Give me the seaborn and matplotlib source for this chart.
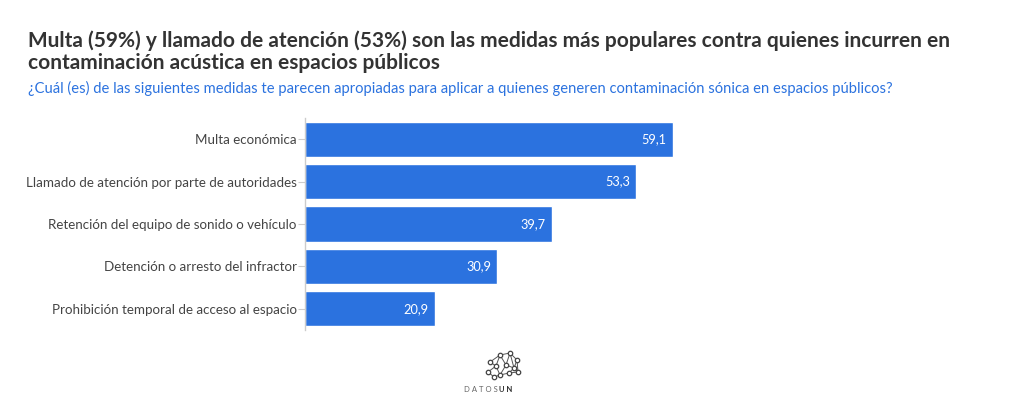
import matplotlib
matplotlib.use("Agg")
import matplotlib.pyplot as plt
import seaborn as sns
import pandas as pd
from matplotlib.lines import Line2D

categories = [
    "Multa económica",
    "Llamado de atención por parte de autoridades",
    "Retención del equipo de sonido o vehículo",
    "Detención o arresto del infractor",
    "Prohibición temporal de acceso al espacio",
]
values = [59.1, 53.3, 39.7, 30.9, 20.9]

title = ("Multa (59%) y llamado de atención (53%) son las medidas más populares contra quienes incurren en\n"
         "contaminación acústica en espacios públicos")
subtitle = ("¿Cuál (es) de las siguientes medidas te parecen apropiadas para aplicar a quienes generen "
            "contaminación sónica en espacios públicos?")

sns.set_theme(style="white")
plt.rcParams['font.family'] = ['Lato', 'DejaVu Sans']

df = pd.DataFrame({"cat": categories, "val": values})

W, H = 1020, 411
fig = plt.figure(figsize=(W / 100, H / 100), dpi=100)
ax = fig.add_axes([305 / W, 1 - 330 / H, (930 - 305) / W, (330 - 118) / H])

bar_color = "#2b72df"
sns.barplot(data=df, x="val", y="cat", orient="h", color=bar_color, width=0.83,
            saturation=1, ax=ax)
ax.set_xlim(0, 100.5)
ax.set_ylim(4.5, -0.5)
ax.set_xlabel("")
ax.set_ylabel("")
ax.set_xticks([])
for s in ["top", "right", "bottom"]:
    ax.spines[s].set_visible(False)
ax.spines["left"].set_color("#cccccc")
ax.spines["left"].set_linewidth(1)
ax.tick_params(axis="y", length=5, width=0.8, color="#cccccc", labelsize=9.6,
               labelcolor="#444444", pad=1)
ax.yaxis.set_ticks_position("left")

for i, v in enumerate(values):
    ax.text(v - 1.0, i, f"{v:.1f}".replace(".", ","), ha="right", va="center",
            color="white", fontsize=9.2)

fig.text(28 / W, 1 - 52 / H, title, ha="left", va="center", fontsize=15.0,
         fontweight="bold", color="#333333", linespacing=1.12)
fig.text(28 / W, 1 - 88 / H, subtitle, ha="left", va="center", fontsize=10.65,
         color="#2b72df")

# DATOSUN logo (decorative)
nodes = [(490, 362), (500, 355), (510, 353), (517, 360), (496, 366), (506, 365),
         (514, 368), (488, 372), (500, 375), (509, 373), (518, 372), (494, 377)]
edges = [(0, 1), (1, 2), (2, 3), (0, 4), (1, 4), (1, 5), (2, 5), (5, 6), (3, 6),
         (4, 7), (4, 8), (5, 8), (8, 9), (6, 9), (9, 10), (6, 10), (7, 11), (8, 11),
         (2, 6), (3, 10)]
for a, b in edges:
    fig.add_artist(Line2D([nodes[a][0] / W, nodes[b][0] / W],
                          [1 - nodes[a][1] / H, 1 - nodes[b][1] / H],
                          color="#555555", lw=0.7, transform=fig.transFigure))
for (x, y) in nodes:
    fig.add_artist(Line2D([x / W], [1 - y / H], marker="o", ms=3.2,
                          markerfacecolor="white", markeredgecolor="#444444",
                          markeredgewidth=0.9, transform=fig.transFigure))
fig.text(498 / W, 1 - 389 / H, "D A T O S", ha="right", va="center", fontsize=5.5,
         color="#666666")
fig.text(499 / W, 1 - 389 / H, "U N", ha="left", va="center", fontsize=5.5,
         color="#333333", fontweight="bold")

fig.savefig("out.png", dpi=100, facecolor="white")
